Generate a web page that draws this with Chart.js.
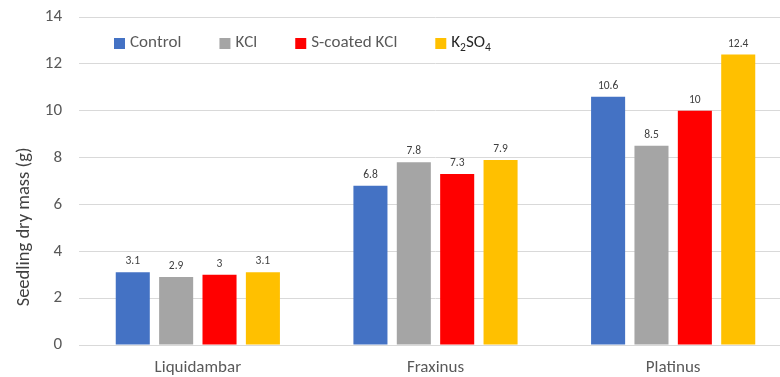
<!DOCTYPE html>
<html>
<head>
<meta charset="utf-8">
<script src="https://cdn.jsdelivr.net/npm/chart.js@4/dist/chart.umd.min.js"></script>
<style>
  html, body { margin: 0; padding: 0; background: #ffffff; overflow: hidden; }
  #wrap { width: 792px; height: 377px; position: relative; }
</style>
</head>
<body>
<div id="wrap"><canvas id="chart"></canvas></div>
<script>
// Seedling dry mass by species and potassium fertiliser treatment
const species = ['Liquidambar', 'Fraxinus', 'Platinus'];
const treatments = ['Control', 'KCl', 'S-coated KCl', 'K₂SO₄'];
const controlMass = [3.1, 6.8, 10.6];
const kclMass = [2.9, 7.8, 8.5];
const coatedKclMass = [3.0, 7.3, 10.0];
const k2so4Mass = [3.1, 7.9, 12.4];
const yTicks = [0, 2, 4, 6, 8, 10, 12, 14];
const yAxisTitle = 'Seedling dry mass (g)';

const seriesColors = ['#4472C4', '#A5A5A5', '#FF0000', '#FFC000'];
const seriesValues = [controlMass, kclMass, coatedKclMass, k2so4Mass];
const FONT = 'Carlito, Lato, "Liberation Sans", sans-serif';

// Value labels above each bar
const valueLabels = {
  id: 'valueLabels',
  afterDatasetsDraw(chart) {
    const ctx = chart.ctx;
    ctx.save();
    ctx.font = '11.5px ' + FONT;
    ctx.fillStyle = '#404040';
    ctx.textAlign = 'center';
    ctx.textBaseline = 'bottom';
    chart.data.datasets.forEach((ds, i) => {
      chart.getDatasetMeta(i).data.forEach((bar, j) => {
        ctx.fillText(String(ds.data[j]), bar.x, bar.y - 5);
      });
    });
    ctx.restore();
  }
};

// Rotated y-axis title, sitting a little below the middle of the plot
const yTitle = {
  id: 'yTitle',
  afterDraw(chart) {
    const ctx = chart.ctx;
    const area = chart.chartArea;
    ctx.save();
    ctx.translate(24, area.top + (area.bottom - area.top) * 0.64);
    ctx.rotate(-Math.PI / 2);
    ctx.font = '18.5px ' + FONT;
    ctx.fillStyle = '#404040';
    ctx.textAlign = 'center';
    ctx.textBaseline = 'middle';
    ctx.fillText(yAxisTitle, 0, 0);
    ctx.restore();
  }
};

// Draw text where Unicode subscript digits are rendered as smaller, lowered glyphs
const SUB = '₀₁₂₃₄₅₆₇₈₉';
function drawRichText(ctx, text, x, y, size) {
  let cx = x;
  for (const ch of text) {
    const k = SUB.indexOf(ch);
    if (k >= 0) {
      ctx.font = (size * 0.68) + 'px ' + FONT;
      ctx.fillText(String(k), cx, y + size * 0.3);
      cx += ctx.measureText(String(k)).width;
    } else {
      ctx.font = size + 'px ' + FONT;
      ctx.fillText(ch, cx, y);
      cx += ctx.measureText(ch).width;
    }
  }
  return cx - x;
}

// Legend drawn inside the plot area, along the top
const insideLegend = {
  id: 'insideLegend',
  afterDraw(chart) {
    const ctx = chart.ctx;
    const area = chart.chartArea;
    const size = 17;
    let x = area.left + 35;
    const y = area.top + 26;
    ctx.save();
    ctx.textBaseline = 'middle';
    ctx.textAlign = 'left';
    chart.data.datasets.forEach((ds, i) => {
      ctx.fillStyle = ds.backgroundColor;
      ctx.fillRect(x, y - 5, 11, 11);
      x += 16;
      ctx.fillStyle = ds.label.includes('₂') ? '#262626' : '#595959';
      const w = drawRichText(ctx, ds.label, x, y, size);
      x += w + 38;
    });
    ctx.restore();
  }
};

new Chart(document.getElementById('chart'), {
  type: 'bar',
  data: {
    labels: species,
    datasets: treatments.map((t, i) => ({
      label: t,
      data: seriesValues[i],
      backgroundColor: seriesColors[i],
      borderWidth: 0,
      categoryPercentage: 0.73,
      barPercentage: 0.785
    }))
  },
  options: {
    responsive: true,
    maintainAspectRatio: false,
    animation: false,
    layout: { padding: { top: 17, right: 0, left: 0, bottom: 0 } },
    plugins: {
      legend: { display: false },
      tooltip: { enabled: false }
    },
    scales: {
      x: {
        grid: { display: false, drawTicks: false },
        border: { color: '#D9D9D9', width: 1 },
        ticks: { color: '#595959', font: { size: 17, family: FONT }, padding: 13 },
        afterFit(scale) {
          scale.height = 32;
          scale.paddingLeft = 0;
          scale.paddingRight = 0;
        }
      },
      y: {
        min: 0,
        max: 14,
        afterBuildTicks(scale) { scale.ticks = yTicks.map(v => ({ value: v })); },
        grid: { color: '#D9D9D9', lineWidth: 1, drawTicks: false },
        border: { display: false },
        ticks: { color: '#595959', font: { size: 17, family: FONT }, padding: 17 },
        afterFit(scale) {
          scale.width = 79;
          scale.paddingTop = 0;
          scale.paddingBottom = 0;
        }
      }
    }
  },
  plugins: [valueLabels, yTitle, insideLegend]
});
</script>
</body>
</html>
